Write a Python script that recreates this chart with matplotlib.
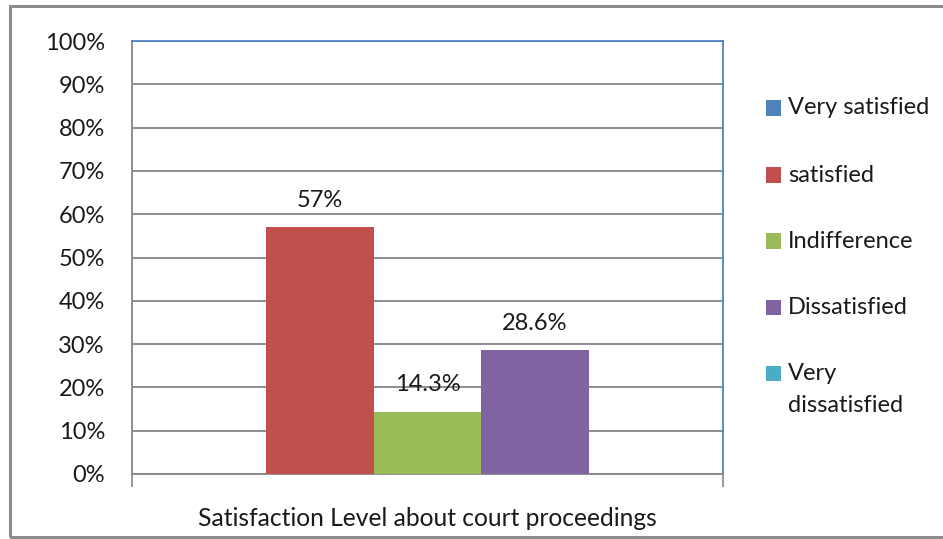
import matplotlib
matplotlib.use("Agg")
import matplotlib.pyplot as plt
from matplotlib.patches import Rectangle

# Survey responses (percent of respondents)
category = "Satisfaction Level about court proceedings"
levels = ["Very satisfied", "satisfied", "Indifference", "Dissatisfied", "Very\ndissatisfied"]
shares = [0, 57, 14.3, 28.6, 0]
colors = ["#4F81BD", "#C0504D", "#9BBB59", "#8064A2", "#4BACC6"]
yticks = [0, 10, 20, 30, 40, 50, 60, 70, 80, 90, 100]
ytick_labels = [f"{t}%" for t in yticks]

plt.rcParams["font.family"] = ["Lato", "DejaVu Sans"]
FS = 17

W, H = 943, 539
fig = plt.figure(figsize=(W / 100, H / 100), dpi=100)

# outer chart frame
fig.patches.append(Rectangle((10 / W, 2 / H), 1.2, 531 / H, transform=fig.transFigure,
                             fill=False, edgecolor="#8c8c8c", linewidth=2.2))

ax = fig.add_axes([132 / W, 65 / H, 591 / W, 433 / H])

bw = 0.182
n = len(levels)
for i, (lab, v, c) in enumerate(zip(levels, shares, colors)):
    x = (i - (n - 1) / 2) * bw
    ax.bar(x, v, width=bw, color=c, linewidth=0, zorder=3)
    if v > 0:
        ax.annotate(f"{v:g}%", (x, v), xytext=(0, 19.5), textcoords="offset points",
                    ha="center", va="center", fontsize=FS, color="#1a1a1a", zorder=4)

ax.set_xlim(-0.5, 0.5)
ax.set_ylim(0, 100)
ax.set_yticks(yticks)
ax.set_yticklabels(ytick_labels, fontsize=FS, color="#1a1a1a")
ax.tick_params(axis="y", length=0, pad=19.5)
ax.set_xticks([-0.5, 0.5])
ax.set_xticklabels(["", ""])
ax.tick_params(axis="x", length=9, width=1.2, color="#868686", direction="out")
ax.yaxis.grid(True, color="#868686", linewidth=1.3, zorder=0)
ax.set_axisbelow(True)

for side in ("left", "bottom"):
    ax.spines[side].set_color("#868686")
    ax.spines[side].set_linewidth(1.3)
for side in ("top", "right"):
    ax.spines[side].set_color("#4F81BD")
    ax.spines[side].set_linewidth(1.3)

fig.text(427.5 / W, 1 - 518 / H, category, ha="center", va="center", fontsize=17.7, color="#1a1a1a")

# legend entries: colour square followed by its label
leg_y = [108, 175, 241, 307, 373]
for lab, c, yc in zip(levels, colors, leg_y):
    fig.patches.append(Rectangle((766 / W, 1 - (yc + 7.5) / H), 15 / W, 15 / H,
                                 transform=fig.transFigure, facecolor=c, edgecolor="none"))
    lines = lab.split("\n")
    for k, line in enumerate(lines):
        fig.text(788 / W, 1 - (yc + 33 * k) / H, line, ha="left", va="center",
                 fontsize=FS, color="#1a1a1a")

fig.savefig("out.png", dpi=100)
